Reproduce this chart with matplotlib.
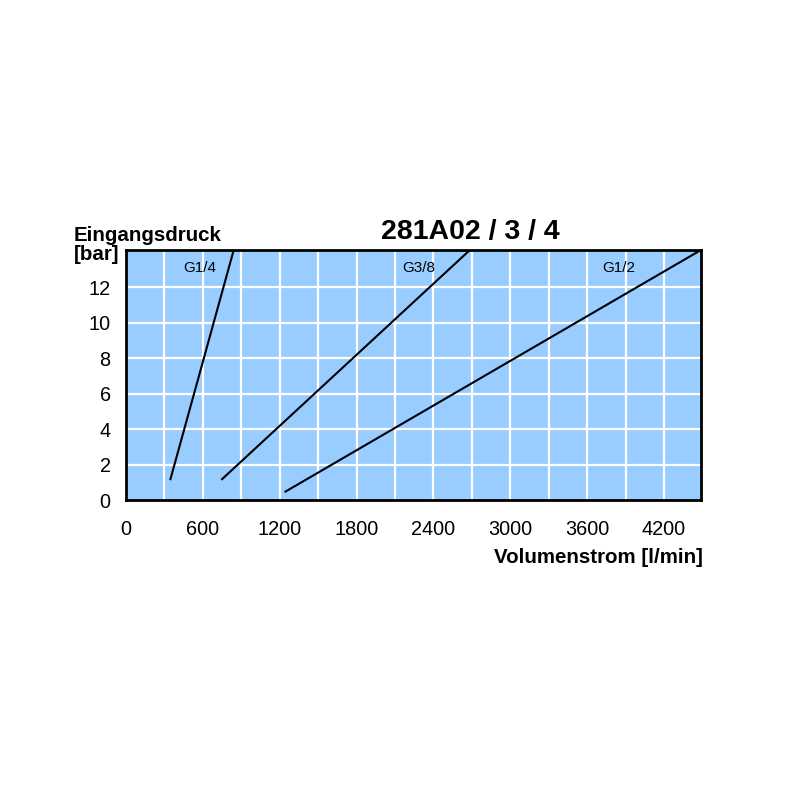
import matplotlib.pyplot as plt

# curves: (flow l/min, inlet pressure bar)
g14_flow = [347, 841]
g14_bar = [1.2, 14.1]
g38_flow = [750, 2685]
g38_bar = [1.2, 14.1]
g12_flow = [1245, 4477]
g12_bar = [0.5, 14.05]

labels = ["G1/4", "G3/8", "G1/2"]
label_x = [576, 2287, 3848]
label_y = [13.1, 13.1, 13.1]

x_ticks = [0, 600, 1200, 1800, 2400, 3000, 3600, 4200]
y_ticks = [0, 2, 4, 6, 8, 10, 12]

plt.rcParams['font.family'] = ['Liberation Sans', 'DejaVu Sans']

fig = plt.figure(figsize=(8, 8), dpi=100)
ax = fig.add_axes([0.1575, 0.3744, 0.7184, 0.3131])
ax.set_facecolor('#99ccff')

ax.set_xlim(0, 4487)
ax.set_ylim(0, 14.1)

# white grid every 300 l/min and 2 bar
for xv in range(300, 4487, 300):
    ax.axvline(xv, color='white', lw=1.6, zorder=1)
for yv in range(2, 14, 2):
    ax.axhline(yv, color='white', lw=1.6, zorder=1)

for fx, fy in [(g14_flow, g14_bar), (g38_flow, g38_bar), (g12_flow, g12_bar)]:
    ax.plot(fx, fy, color='black', lw=1.5, zorder=3, clip_on=True)

for t, lx, ly in zip(labels, label_x, label_y):
    ax.text(lx, ly, t, ha='center', va='center', fontsize=11, zorder=4)

ax.set_xticks(x_ticks)
ax.set_yticks(y_ticks)
ax.tick_params(length=0, labelsize=14.3)
ax.tick_params(axis='x', pad=14)
ax.tick_params(axis='y', pad=11)
for s in ax.spines.values():
    s.set_linewidth(2)
    s.set_color('black')

fig.text(0.5875, 0.7105, "281A02 / 3 / 4", ha='center', va='center',
         fontsize=20.5, fontweight='bold')
fig.text(0.0925, 0.7055, "Eingangsdruck", ha='left', va='center',
         fontsize=14.8, fontweight='bold')
fig.text(0.0925, 0.6815, "[bar]", ha='left', va='center',
         fontsize=14.8, fontweight='bold')
fig.text(0.879, 0.3035, "Volumenstrom [l/min]", ha='right', va='center',
         fontsize=14.8, fontweight='bold')

fig.savefig("out.png", dpi=100)
